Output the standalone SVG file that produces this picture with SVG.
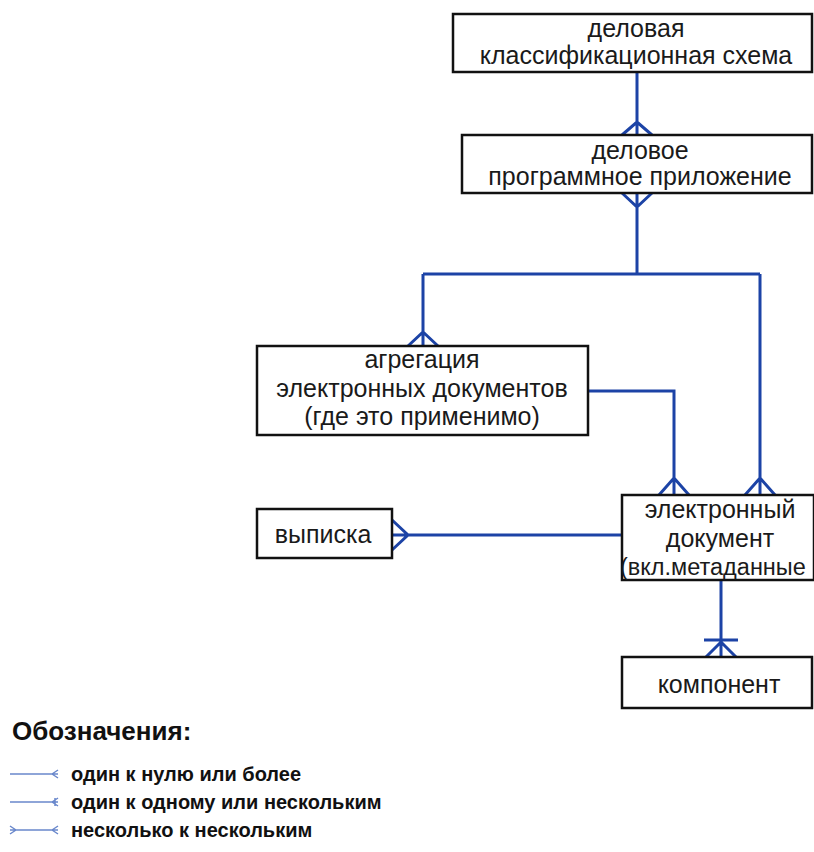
<svg xmlns="http://www.w3.org/2000/svg" width="814" height="852" viewBox="0 0 814 852">
<style>
.box{fill:#fff;stroke:#111;stroke-width:2.5}
.t{font-family:"Liberation Sans",Arial,sans-serif;font-size:25px;fill:#1a1a1a;text-anchor:middle}
.c{fill:none;stroke:#1c43a6;stroke-width:3;stroke-linejoin:miter}
.lg{fill:none;stroke:#6a88cc;stroke-width:1.5}
.lt{font-family:"Liberation Sans",Arial,sans-serif;font-size:20px;font-weight:bold;fill:#111}
</style>
<rect width="814" height="852" fill="#fff"/>
<g id="connectors">
  <path class="c" d="M637,72 V135 M622,135 L637,122 L652,135"/>
  <path class="c" d="M637,193 V274 M622,193 L637,207 L652,193"/>
  <path class="c" d="M423,274 H760 M423,274 V346 M408,346 L423,332 L438,346"/>
  <path class="c" d="M760,274 V495 M745,495 L760,478 L775,495"/>
  <path class="c" d="M588,391 H674 V495 M659,495 L674,478 L689,495"/>
  <path class="c" d="M392,535 H622 M392,520 L408,535 L392,550"/>
  <path class="c" d="M721,580 V657 M704,640 H738 M706,657 L721,642 L736,657"/>
</g>
<g id="n1">
  <rect class="box" x="453" y="14" width="359" height="58"/>
  <text class="t" x="636" y="37">деловая</text>
  <text class="t" x="636" y="64">классификационная схема</text>
</g>
<g id="n2">
  <rect class="box" x="462" y="135" width="350" height="58"/>
  <text class="t" x="640" y="159">деловое</text>
  <text class="t" x="640" y="185">программное приложение</text>
</g>
<g id="n3">
  <rect class="box" x="257" y="346" width="331" height="89"/>
  <text class="t" x="422" y="368">агрегация</text>
  <text class="t" x="422" y="397">электронных документов</text>
  <text class="t" x="422" y="425">(где это применимо)</text>
</g>
<g id="n4">
  <rect class="box" x="257" y="509" width="135" height="49"/>
  <text class="t" x="323" y="543">выписка</text>
</g>
<g id="n5">
  <rect class="box" x="622" y="495" width="192" height="85"/>
  <text class="t" x="720" y="518">электронный</text>
  <text class="t" x="720" y="547">документ</text>
  <text class="t" x="620" y="575" style="text-anchor:start;font-size:23.5px">(вкл.метаданные</text>
</g>
<g id="n6">
  <rect class="box" x="622" y="657" width="190" height="51"/>
  <text class="t" x="719" y="693">компонент</text>
</g>
<g id="legend">
  <text x="12" y="740" style="font-family:'Liberation Sans',Arial,sans-serif;font-size:26px;font-weight:bold;fill:#111">Обозначения:</text>
  <path class="lg" d="M10,774 H58 M52,774 L58,770 M52,774 L58,778"/>
  <text class="lt" x="71" y="781">один к нулю или более</text>
  <path class="lg" d="M10,802 H58 M52,802 L58,798 M52,802 L58,806 M55,798 V806"/>
  <text class="lt" x="71" y="809">один к одному или нескольким</text>
  <path class="lg" d="M10,830 H58 M52,830 L58,826 M52,830 L58,834 M16,830 L10,826 M16,830 L10,834"/>
  <text class="lt" x="71" y="837">несколько к нескольким</text>
</g>
</svg>
